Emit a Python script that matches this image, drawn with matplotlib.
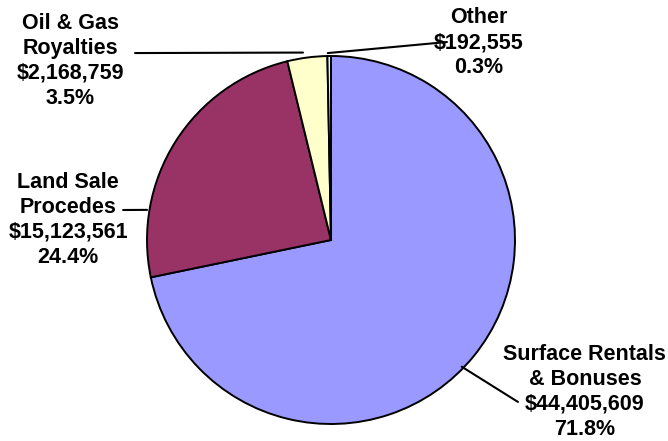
import numpy as np
import matplotlib
matplotlib.use("Agg")
import matplotlib.pyplot as plt

plt.rcParams["font.family"] = ["Liberation Sans", "DejaVu Sans"]

# 数据
names = ["Surface Rentals\n& Bonuses", "Land Sale\nProcedes", "Oil & Gas\nRoyalties", "Other"]
amounts = [44405609, 15123561, 2168759, 192555]
percents = [71.8, 24.4, 3.5, 0.3]
colors = ["#9999FF", "#993366", "#FFFFCC", "#CCFFFF"]

# 标签布局（数据坐标，半径=1）
label_pos = [(1.380, -0.826), (-1.429, 0.109), (-1.418, 0.973), (0.804, 1.071)]
anchor = [(-44.1, 0.99), (170.7, 1.013), (98.5, 1.03), (91.0, 1.016)]  # 角度, 半径
line_end = [(1.016, -0.880), (-1.130, 0.163), (-1.065, 1.016), (0.630, 1.076)]

W, H = 668, 441
cx, cy, r_px = 331, 240, 184

fig = plt.figure(figsize=(W / 100, H / 100), dpi=100)
ax = fig.add_axes([0, 0, 1, 1])

ax.pie(amounts, colors=colors, startangle=90, counterclock=False,
       wedgeprops=dict(edgecolor="black", linewidth=1.4))

ax.set_xlim(-cx / r_px, (W - cx) / r_px)
ax.set_ylim(-(H - cy) / r_px, cy / r_px)
ax.set_aspect("equal")
ax.axis("off")

for i in range(len(amounts)):
    txt = f"{names[i]}\n${amounts[i]:,}\n{percents[i]:.1f}%"
    ax.text(label_pos[i][0], label_pos[i][1], txt, ha="center", va="center",
            fontsize=15.5, fontweight="bold", linespacing=1.25)
    ang = np.deg2rad(anchor[i][0])
    xy = (anchor[i][1] * np.cos(ang), anchor[i][1] * np.sin(ang))
    ax.annotate("", xy=xy, xytext=line_end[i],
                arrowprops=dict(arrowstyle="-", lw=1.5, color="black",
                                shrinkA=0, shrinkB=0))

fig.savefig("out.png", dpi=100)
